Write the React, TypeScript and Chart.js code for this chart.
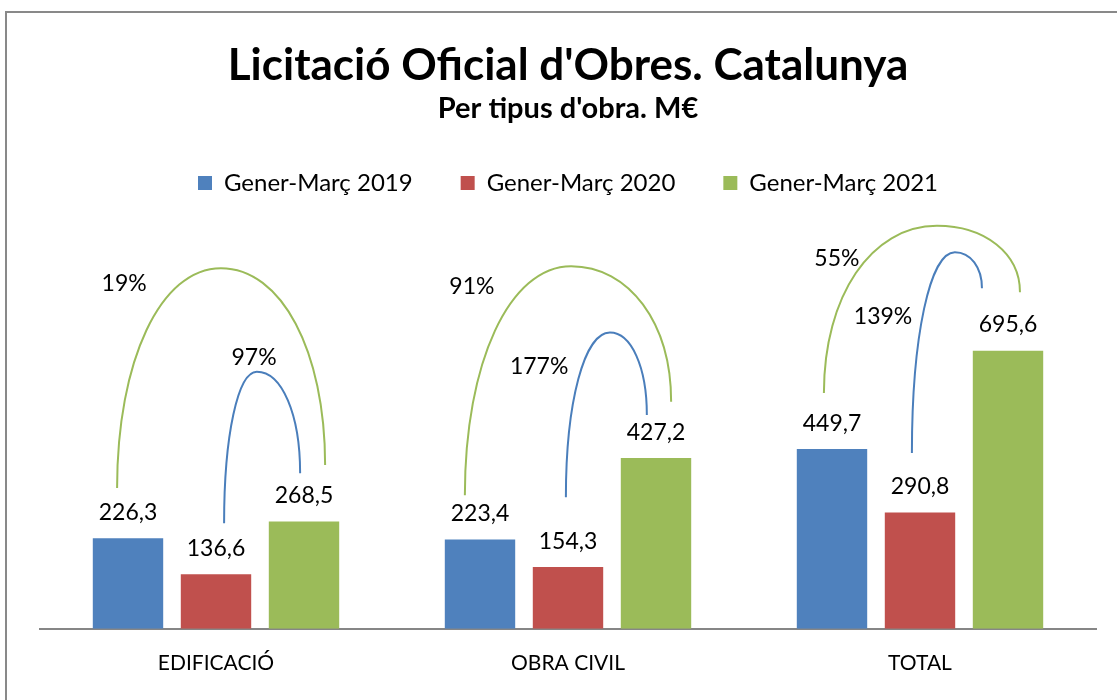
import React, { useEffect, useRef } from 'react';
import { Chart, registerables } from 'chart.js';

Chart.register(...registerables);

const categories = ['EDIFICACIÓ', 'OBRA CIVIL', 'TOTAL'];
const seriesLabels = ['Gener-Març 2019', 'Gener-Març 2020', 'Gener-Març 2021'];
const values2019 = [226.3, 223.4, 449.7];
const values2020 = [136.6, 154.3, 290.8];
const values2021 = [268.5, 427.2, 695.6];
const seriesColors = ['#4F81BD', '#C0504D', '#9BBB59'];

// Growth annotations (arc from one bar to another), in category / value units
const growthLabels = ['19%', '97%', '91%', '177%', '55%', '139%'];
const growthCategory = [0, 0, 1, 1, 2, 2];
const growthColors = ['#9BBB59', '#4A7EBB', '#9BBB59', '#4A7EBB', '#9BBB59', '#4A7EBB'];
const arcStart = [[-0.281, 352], [0.023, 264], [-0.293, 334], [-0.006, 329], [-0.273, 590], [-0.023, 440]];
const arcPeak = [[0.014, 902], [0.116, 643], [0.009, 907], [0.119, 741], [0.048, 1008], [0.099, 942]];
const arcEnd = [[0.31, 410], [0.239, 389], [0.293, 568], [0.224, 535], [0.284, 842], [0.176, 852]];
const growthLabelPos = [[-0.261, 864], [0.108, 678], [-0.273, 857], [-0.082, 656], [-0.236, 925], [-0.105, 781]];

const FONT = 'Lato';

const fmt = (v: number) => v.toFixed(1).replace('.', ',');

const overlayPlugin = {
  id: 'overlay',
  afterDatasetsDraw(chart: any) {
    const ctx = chart.ctx;
    const xs = chart.scales.x;
    const ys = chart.scales.y;
    const catW = xs.getPixelForValue(1) - xs.getPixelForValue(0);
    const px = (i: number, d: number) => xs.getPixelForValue(i) + d * catW;
    const py = (v: number) => ys.getPixelForValue(v);
    ctx.save();
    // value labels
    ctx.font = `23px ${FONT}`;
    ctx.fillStyle = '#000';
    ctx.textAlign = 'center';
    ctx.textBaseline = 'alphabetic';
    chart.data.datasets.forEach((ds: any, di: number) => {
      const meta = chart.getDatasetMeta(di);
      meta.data.forEach((bar: any, i: number) => {
        ctx.fillText(fmt(ds.data[i]), bar.x, bar.y - 18.5);
      });
    });
    // arcs
    const k = 0.58;
    growthLabels.forEach((lab, j) => {
      const c = growthCategory[j];
      const sx = px(c, arcStart[j][0]), sy = py(arcStart[j][1]);
      const pkx = px(c, arcPeak[j][0]), pky = py(arcPeak[j][1]);
      const ex = px(c, arcEnd[j][0]), ey = py(arcEnd[j][1]);
      ctx.beginPath();
      ctx.moveTo(sx, sy);
      ctx.bezierCurveTo(sx, sy + k * (pky - sy), pkx - k * (pkx - sx), pky, pkx, pky);
      ctx.bezierCurveTo(pkx + k * (ex - pkx), pky, ex, ey + k * (pky - ey), ex, ey);
      ctx.strokeStyle = growthColors[j];
      ctx.lineWidth = 2;
      ctx.stroke();
      ctx.textBaseline = 'middle';
      ctx.fillText(lab, px(c, growthLabelPos[j][0]), py(growthLabelPos[j][1]));
    });
    ctx.restore();
  },
};

export default function App() {
  const ref = useRef<HTMLCanvasElement>(null);
  useEffect(() => {
    if (!ref.current) return;
    const chart = new Chart(ref.current, {
      type: 'bar',
      data: {
        labels: categories,
        datasets: [values2019, values2020, values2021].map((vals, i) => ({
          label: seriesLabels[i],
          data: vals,
          backgroundColor: seriesColors[i],
          borderWidth: 0,
          categoryPercentage: 0.75,
          barPercentage: 0.8,
        })),
      },
      options: {
        responsive: false,
        animation: false,
        layout: { padding: { top: 0, left: 40, right: 21, bottom: 10 } },
        plugins: {
          title: {
            display: true,
            text: "Licitació Oficial d'Obres. Catalunya",
            color: '#000',
            font: { family: FONT, size: 44, weight: 'bold', lineHeight: 1 },
            padding: { top: 44, bottom: 0 },
          },
          subtitle: {
            display: true,
            text: "Per tipus d'obra. M€",
            color: '#000',
            font: { family: FONT, size: 29, weight: 'bold', lineHeight: 1 },
            padding: { top: 6, bottom: 0 },
          },
          legend: {
            display: true,
            labels: {
              boxWidth: 14,
              boxHeight: 14,
              padding: 48,
              color: '#000',
              font: { family: FONT, size: 24 },
            },
          },
          tooltip: { enabled: false },
        },
        scales: {
          x: {
            grid: { display: false },
            border: { display: true, color: '#868686', width: 2 },
            ticks: { color: '#000', font: { family: FONT, size: 21 }, padding: 14 },
          },
          y: { display: false, min: 0, max: 1060 },
        },
      },
      plugins: [overlayPlugin],
    } as any);
    return () => chart.destroy();
  }, []);
  return (
    <div style={{ position: 'fixed', left: 0, top: 0, width: 1117, height: 700, overflow: 'hidden', background: '#fff' }}>
      <div
        style={{
          position: 'absolute',
          left: 5,
          top: 11,
          width: 1300,
          height: 900,
          borderTop: '2px solid #898989',
          borderLeft: '2px solid #898989',
        }}
      />
      <canvas ref={ref} width={1117} height={700} style={{ position: 'absolute', left: 0, top: 0, width: 1117, height: 700 }} />
    </div>
  );
}
